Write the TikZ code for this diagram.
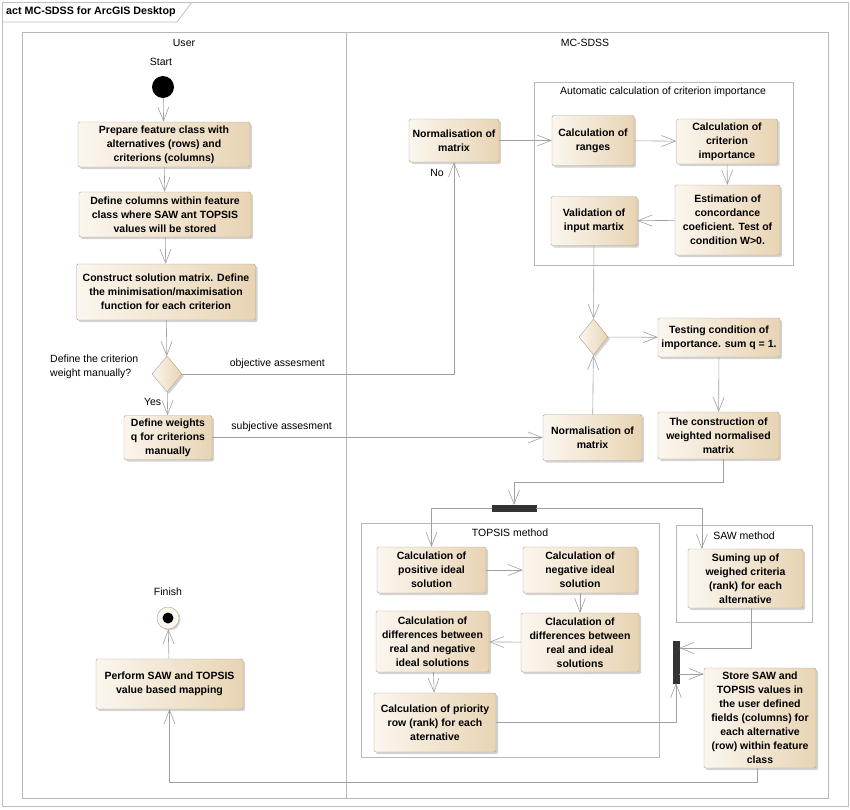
\documentclass[tikz,border=0pt]{standalone}
\usepackage{fontspec}
\setmainfont{Liberation Sans}
\usetikzlibrary{arrows.meta,shapes.geometric,shadows}

\definecolor{boxlight}{HTML}{FBF6EE}
\definecolor{boxdark}{HTML}{E8D4B4}
\definecolor{boxline}{HTML}{ADA594}
\definecolor{flowline}{HTML}{A0A0A0}
\definecolor{laneline}{HTML}{B8B8B8}

\tikzstyle{action} = [draw=boxline,rounded corners=1.5pt,left color=boxlight,right color=boxdark,
  drop shadow={opacity=0.35,shadow xshift=2pt,shadow yshift=-2pt},
  align=center,font=\fontsize{10.5}{14}\selectfont\bfseries,inner sep=2pt]
\tikzstyle{decision} = [diamond,draw=boxline,left color=boxlight,right color=boxdark,
  drop shadow={opacity=0.35,shadow xshift=2pt,shadow yshift=-2pt},
  minimum width=30pt,minimum height=36pt,inner sep=0pt]
\tikzstyle{bar} = [fill=black!80,draw=black!80,inner sep=0pt]
\tikzstyle{flow} = [draw=flowline,line width=0.6pt,->,>={Straight Barb[length=14pt,width=11pt,line width=0.6pt]}]
\tikzstyle{lane} = [draw=laneline,line width=0.6pt]
\tikzstyle{lbl} = [font=\fontsize{10.5}{14}\selectfont,inner sep=1pt]

\begin{document}
\begin{tikzpicture}[x=1pt,y=-1pt]
		\useasboundingbox (0,0) rectangle (850,809);
		% frame and lanes
		\draw[draw=black!25,line width=0.8pt] (2,2) rectangle (848,806);
		\draw[draw=black!25,line width=0.8pt] (2,22) -- (177,22) -- (192,2);
		\node[anchor=west,font=\fontsize{10.7}{12}\selectfont\bfseries,inner sep=0pt] (title) at (6,12) {act MC-SDSS for ArcGIS Desktop};
		\draw[lane] (22,32) rectangle (828,798);
		\draw[lane] (346,32) -- (346,798);
		\node[lbl] (user) at (184,43) {User};
		\node[lbl] (mcsdss) at (585,43) {MC-SDSS};
		\draw[lane] (534,82) rectangle (793,265);
		\node[lbl] (autotitle) at (663,92) {Automatic calculation of criterion importance};
		\draw[lane] (361,523) rectangle (659,757);
		\node[lbl] (topsistitle) at (510,533) {TOPSIS method};
		\draw[lane] (676,525) rectangle (812,622);
		\node[lbl] (sawtitle) at (744,536) {SAW method};
		% user lane
		\node[circle,fill=black,minimum size=22pt,inner sep=0pt] (start) at (163,87) {};
		\node[lbl] (startlbl) at (161,62) {Start};
		\node[action,minimum width=172pt,minimum height=45pt] (prep) at (164,144.5) {Prepare feature class with\\alternatives (rows) and\\criterions (columns)};
		\node[action,minimum width=172pt,minimum height=45pt] (cols) at (165,214.5) {Define columns within feature\\class where SAW ant TOPSIS\\values will be stored};
		\node[action,minimum width=179pt,minimum height=56pt] (cons) at (166,292) {Construct solution matrix. Define\\the minimisation/maximisation\\function for each criterion};
		\node[decision] (dec1) at (167,374) {};
		\node[lbl,anchor=west,align=left] (question) at (49,367) {Define the criterion\\weight manually?};
		\node[action,minimum width=88pt,minimum height=44pt] (weights) at (168,437.5) {Define weights\\q for criterions\\manually};
		\node[circle,draw=boxline,fill=boxlight,minimum size=22pt,inner sep=0pt,
		  drop shadow={opacity=0.35,shadow xshift=1.5pt,shadow yshift=-1.5pt}] (finish) at (168,618) {};
		\node[circle,fill=black,minimum size=11pt,inner sep=0pt] (finishdot) at (finish) {};
		\node[lbl] (finishlbl) at (168,592) {Finish};
		\node[action,minimum width=147pt,minimum height=50pt] (perform) at (169.5,684) {Perform SAW and TOPSIS\\value based mapping};
		% MC-SDSS lane
		\node[action,minimum width=90pt,minimum height=43pt] (norm1) at (454,140.5) {Normalisation of\\matrix};
		\node[action,minimum width=82pt,minimum height=50pt] (ranges) at (593,140.5) {Calculation of\\ranges};
		\node[action,minimum width=101pt,minimum height=45pt] (imp) at (727,141.5) {Calculation of\\criterion\\importance};
		\node[action,minimum width=105pt,minimum height=70pt] (est) at (727.5,220) {Estimation of\\concordance\\coeficient. Test of\\condition W>0.};
		\node[action,minimum width=86pt,minimum height=49pt] (valid) at (594,221) {Validation of\\input martix};
		\node[decision,minimum width=29pt] (dec2) at (593.5,337) {};
		\node[action,minimum width=122pt,minimum height=39pt] (test) at (719,337.5) {Testing condition of\\importance. sum q = 1.};
		\node[action,minimum width=99pt,minimum height=46pt] (norm2) at (592.5,437.5) {Normalisation of\\matrix};
		\node[action,minimum width=121pt,minimum height=47pt] (wnm) at (718.5,435.5) {The construction of\\weighted normalised\\matrix};
		\node[bar,minimum width=44pt,minimum height=6pt] (fork) at (514,508) {};
		\node[action,minimum width=109pt,minimum height=46pt] (pos) at (431.5,570) {Calculation of\\positive ideal\\solution};
		\node[action,minimum width=114pt,minimum height=46pt] (neg) at (580,570) {Calculation of\\negative ideal\\solution};
		\node[action,minimum width=118pt,minimum height=59pt] (dif) at (580,642.5) {Claculation of\\differences between\\real and ideal\\solutions};
		\node[action,minimum width=113pt,minimum height=61pt] (difneg) at (432.5,641.5) {Calculation of\\differences between\\real and negative\\ideal solutions};
		\node[action,minimum width=122pt,minimum height=59pt] (prio) at (435,722.5) {Calculation of priority\\row (rank) for each\\aternative};
		\node[action,minimum width=115pt,minimum height=59pt] (sum) at (745.5,578.5) {Suming up of\\weighed criteria\\(rank) for each\\alternative};
		\node[bar,minimum width=6pt,minimum height=42pt] (join) at (676,662) {};
		\node[action,minimum width=112pt,minimum height=100pt] (store) at (760,718) {Store SAW and\\TOPSIS values in\\the user defined\\fields (columns) for\\each alternative\\(row) within feature\\class};
		% flows
		\draw[flow] (start) -- (prep);
		\draw[flow] (prep) -- (cols);
		\draw[flow] (cols) -- (cons);
		\draw[flow] (cons) -- (dec1);
		\draw[flow] (dec1) -- node[lbl,left=5pt,pos=0.45] {Yes} (weights);
		\draw[flow] (dec1) -| node[lbl,pos=0.175,above=4pt] {objective assesment} node[lbl,pos=0.974,left=9pt] {No} (norm1);
		\draw[flow] (weights) -- node[lbl,pos=0.21,above=5pt] {subjective assesment} (norm2);
		\draw[flow] (norm1) -- (ranges);
		\draw[flow] (ranges) -- (imp);
		\draw[flow] (imp) -- (est);
		\draw[flow] (est) -- (valid);
		\draw[flow] (valid) -- (dec2);
		\draw[flow] (norm2) -- (dec2);
		\draw[flow] (dec2) -- (test);
		\draw[flow] (test) -- (wnm);
		\draw[flow] ([xshift=5pt]wnm.south) -- ++(0,23) -| (fork);
		\draw[flow] (fork) -| (pos);
		\draw[flow] (fork) -| ([xshift=14pt]sum.north west);
		\draw[flow] (pos) -- (neg);
		\draw[flow] (neg) -- (dif);
		\draw[flow] (dif) -- (difneg);
		\draw[flow] (difneg) -- (prio);
		\draw[flow] (prio) -| (join);
		\draw[flow] ([xshift=6pt]sum.south) |- ([yshift=14pt]join.east);
		\draw[flow] ([yshift=-12pt]join.east) -- ([yshift=44pt]store.west);
		\draw[flow] ([xshift=-3pt]store.south) -- ++(0,14) -| (perform);
		\draw[flow] (perform) -- (finish);
\end{tikzpicture}
\end{document}
